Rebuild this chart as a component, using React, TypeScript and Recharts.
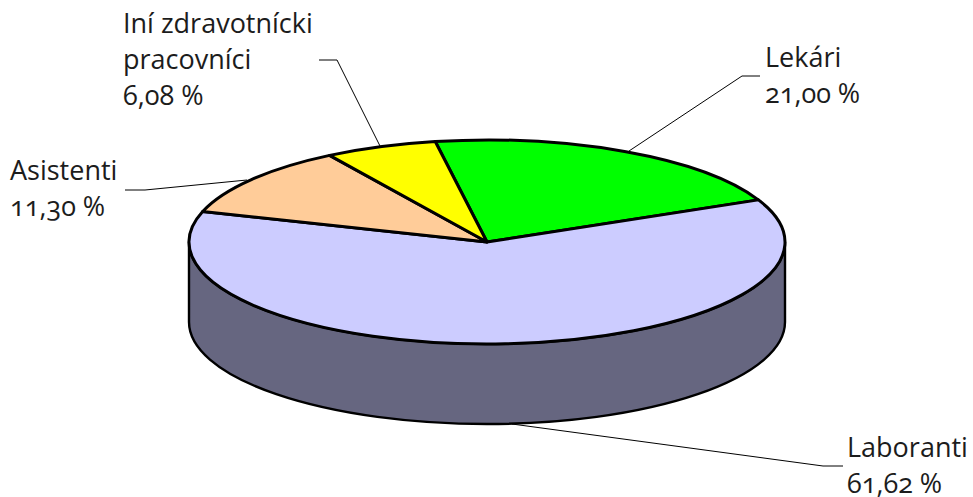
import React from "react";
import { PieChart, Pie, Cell } from "recharts";

const categories = ["Lekári", "Laboranti", "Asistenti", "Iní zdravotnícki pracovníci"];
const shares = [21.0, 61.62, 11.3, 6.08];
const valueLabels = ["21,00 %", "61,62 %", "11,30 %", "6,08 %"];
const labelLines = [["Lekári"], ["Laboranti"], ["Asistenti"], ["Iní zdravotnícki", "pracovníci"]];
const fills = ["#00ff00", "#ccccff", "#ffcc99", "#ffff00"];

const data = categories.map((name, i) => ({ name, value: shares[i] }));

const W = 973, H = 497, CX = 487, CY = 242, RX = 298, RY = 102, DEPTH = 80;
const START = 100;
const FONT = "'Open Sans', sans-serif";
const labelPos = [
  { x: 765, y: 67 },
  { x: 847, y: 456.5 },
  { x: 10, y: 180 },
  { x: 123, y: 33 },
];
const leaders = [
  "760,76 742,76 629,151",
  "843,466 823,466 512,424",
  "125,190 145,190 247,180",
  "319,60 337,60 380,146",
];

const pt = (deg: number, dy = 0) => {
  const r = (deg * Math.PI) / 180;
  return [CX + RX * Math.cos(r), CY - RY * Math.sin(r) + dy];
};

const TopSlice = (p: any) => {
  const [x1, y1] = pt(p.startAngle);
  const [x2, y2] = pt(p.endAngle);
  const large = Math.abs(p.startAngle - p.endAngle) > 180 ? 1 : 0;
  return (
    <path
      d={`M${CX},${CY}L${x1},${y1}A${RX},${RY} 0 ${large} 1 ${x2},${y2}Z`}
      fill={p.fill}
      stroke="#000"
      strokeWidth={3}
      strokeLinejoin="round"
    />
  );
};

const WallSlice = (p: any) => {
  const a = Math.min(p.startAngle, 0);
  const b = Math.max(p.endAngle, -180);
  if (a <= b) return <g />;
  const [x1, y1] = pt(a);
  const [x2, y2] = pt(b);
  const [x3, y3] = pt(b, DEPTH);
  const [x4, y4] = pt(a, DEPTH);
  return (
    <path
      d={`M${x1},${y1}A${RX},${RY} 0 0 1 ${x2},${y2}L${x3},${y3}A${RX},${RY} 0 0 0 ${x4},${y4}Z`}
      fill="#666680"
      stroke="#000"
      strokeWidth={2.4}
    />
  );
};

const renderLabel = (p: any) => {
  const i = p.index;
  const { x, y } = labelPos[i];
  const rows = [...labelLines[i], valueLabels[i]];
  return (
    <text
      key={i}
      x={x}
      y={y}
      fill="#1c1c1c"
      fontFamily={FONT}
      fontSize={27}
      fontWeight={400}
      style={{ fontVariantNumeric: "oldstyle-nums" }}
    >
      {rows.map((r, k) => (
        <tspan key={k} x={x} dy={k === 0 ? 0 : 36}>
          {r}
        </tspan>
      ))}
    </text>
  );
};

const renderLeader = (p: any) => (
  <polyline key={p.index} points={leaders[p.index]} fill="none" stroke="#000" strokeWidth={1} />
);

export default function App() {
  return (
    <div style={{ position: "absolute", left: 0, top: 0, width: W, height: H, background: "#fff" }}>
      <PieChart width={W} height={H} margin={{ top: 0, right: 0, bottom: 0, left: 0 }}>
        <Pie
          data={data}
          dataKey="value"
          cx={CX}
          cy={CY}
          outerRadius={RX}
          startAngle={START}
          endAngle={START - 360}
          isAnimationActive={false}
          shape={WallSlice}
          label={false}
          labelLine={false}
        />
        <Pie
          data={data}
          dataKey="value"
          nameKey="name"
          cx={CX}
          cy={CY}
          outerRadius={RX}
          startAngle={START}
          endAngle={START - 360}
          isAnimationActive={false}
          shape={TopSlice}
          label={renderLabel}
          labelLine={renderLeader}
        >
          {data.map((d, i) => (
            <Cell key={d.name} fill={fills[i]} />
          ))}
        </Pie>
      </PieChart>
    </div>
  );
}
